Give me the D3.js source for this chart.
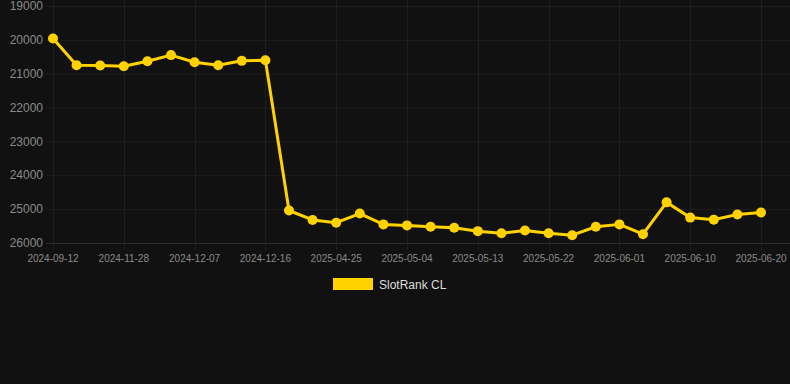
<!DOCTYPE html>
<html><head><meta charset="utf-8">
<script src="https://cdn.jsdelivr.net/npm/d3@7"></script>
<style>html,body{margin:0;padding:0;background:#111111;}svg{display:block;}</style>
</head><body>
<svg id="c" width="790" height="384"></svg>
<script>
const categories = ["2024-09-12","2024-10-27","2024-11-12","2024-11-28","2024-12-01","2024-12-04","2024-12-07","2024-12-10","2024-12-13","2024-12-16","2025-04-19","2025-04-22","2025-04-25","2025-04-28","2025-05-01","2025-05-04","2025-05-07","2025-05-10","2025-05-13","2025-05-16","2025-05-19","2025-05-22","2025-05-25","2025-05-29","2025-06-01","2025-06-04","2025-06-07","2025-06-10","2025-06-14","2025-06-17","2025-06-20"];
const seriesName = "SlotRank CL";
const values = [19960,20750,20760,20780,20630,20450,20660,20750,20620,20600,25040,25320,25400,25130,25450,25480,25520,25550,25650,25710,25630,25710,25770,25520,25450,25740,24800,25250,25310,25160,25100];
const yTicks = [19000,20000,21000,22000,23000,24000,25000,26000];

const svg = d3.select("#c");
const x = d3.scalePoint().domain(categories).range([53, 761]);
const y = d3.scaleLinear().domain([19000, 26000]).range([6, 243]);
const gridColor = "#1f1f1f";
const textColor = "#8a8a8a";

// horizontal grid
svg.append("g").selectAll("line").data(yTicks).join("line")
  .attr("x1", 46).attr("x2", 790)
  .attr("y1", d => y(d) + 0.5).attr("y2", d => y(d) + 0.5)
  .attr("stroke", d => d === 26000 ? "#2a2a2a" : gridColor).attr("stroke-width", 1);
// vertical grid
const xLabeled = categories.filter((d, i) => i % 3 === 0);
svg.append("g").selectAll("line").data(xLabeled).join("line")
  .attr("x1", d => Math.round(x(d)) + 0.5).attr("x2", d => Math.round(x(d)) + 0.5)
  .attr("y1", 0).attr("y2", 250)
  .attr("stroke", gridColor).attr("stroke-width", 1);

// y labels
svg.append("g").selectAll("text").data(yTicks).join("text")
  .attr("x", 43).attr("y", d => y(d)).attr("dy", "0.35em")
  .attr("text-anchor", "end").attr("fill", textColor)
  .style("font", "12px Arial, 'Liberation Sans', sans-serif")
  .text(d => d);
// x labels
svg.append("g").selectAll("text").data(xLabeled).join("text")
  .attr("x", d => x(d)).attr("y", 258).attr("dy", "0.35em")
  .attr("text-anchor", "middle").attr("fill", textColor)
  .style("font", "10px Arial, 'Liberation Sans', sans-serif")
  .text(d => d);

const color = "#FFD200";
const line = d3.line().x((d, i) => x(categories[i])).y(d => y(d));
svg.append("path").datum(values).attr("d", line)
  .attr("fill", "none").attr("stroke", color).attr("stroke-width", 3)
  .attr("stroke-linejoin", "round");
svg.append("g").selectAll("circle").data(values).join("circle")
  .attr("cx", (d, i) => x(categories[i])).attr("cy", d => y(d))
  .attr("r", 5).attr("fill", color);

// legend
svg.append("rect").attr("x", 333).attr("y", 278).attr("width", 40).attr("height", 12).attr("fill", color);
svg.append("text").attr("x", 379).attr("y", 284.5).attr("dy", "0.35em")
  .attr("fill", "#dddddd").style("font", "12px Arial, 'Liberation Sans', sans-serif")
  .text(seriesName);
</script>
</body></html>
